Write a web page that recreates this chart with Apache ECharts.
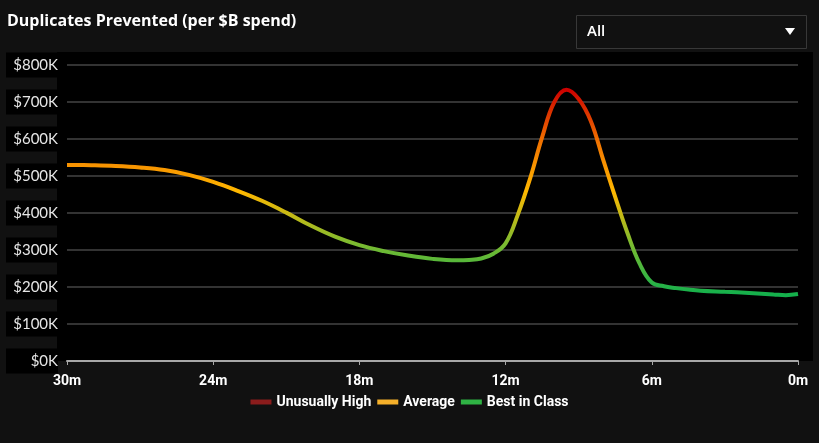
<!DOCTYPE html>
<html>
<head>
<meta charset="utf-8">
<style>
  html, body { margin: 0; padding: 0; background: #111; }
  #chart { width: 819px; height: 443px; }
</style>
<script src="https://cdn.jsdelivr.net/npm/echarts@6/dist/echarts.min.js"></script>
</head>
<body>
<div id="chart"></div>
<script>
// minutes ago (x) and duplicates prevented per $B (y)
var minutes = [30, 29, 28, 27, 26, 25, 24, 23, 22, 21, 20, 19, 18, 17, 16, 15, 14,
  13.5, 13, 12.5, 12, 11.5, 11, 10.5, 10, 9.5, 9, 8.5, 8, 7.5, 7, 6.5, 6, 5.5, 5, 4.5, 4,
  3, 2, 1, 0.5, 0];
var prevented = [530000, 529000, 527000, 523000, 516000, 503000, 484000, 460000, 433000, 401000,
  366000, 336000, 313000, 297000, 285000, 276000, 272000,
  273000, 277000, 290000, 318000, 395000, 492000, 605000, 700000, 733000, 708000, 648000,
  545000, 443000, 346000, 263000, 212000, 202000, 197000, 193000, 190000,
  187000, 184000, 180000, 178000, 181000];
var xTicks = [0, 6, 12, 18, 24, 30];
var yTicks = [0, 100000, 200000, 300000, 400000, 500000, 600000, 700000, 800000];
var legendNames = ['Unusually High', 'Average', 'Best in Class'];
var legendColors = ['#8b1c1c', '#f5b02a', '#2fb344'];

var narrowFont = 'Roboto, sans-serif';

var chart = echarts.init(document.getElementById('chart'));

var points = minutes.map(function (m, i) { return [m, prevented[i]]; });

var series = legendNames.map(function (n, i) {
  return {
    name: n,
    type: 'line',
    data: [],
    itemStyle: { color: legendColors[i] },
    lineStyle: { color: legendColors[i] }
  };
});
series.push({
  name: 'Duplicates',
  type: 'line',
  data: points,
  smooth: 0.4,
  showSymbol: false,
  symbol: 'none',
  lineStyle: { width: 4 },
  z: 5
});

var option = {
  backgroundColor: '#111',
  animation: false,
  title: {
    text: 'Duplicates Prevented (per $B spend)',
    left: 2,
    top: 8,
    textStyle: {
      color: '#fff',
      fontFamily: 'Open Sans',
      fontWeight: 'bold',
      fontSize: 16
    }
  },
  graphic: [
    {
      type: 'rect',
      z: -10,
      shape: { x: 57, y: 52, width: 756, height: 309 },
      style: { fill: '#000' }
    },
    {
      type: 'rect',
      shape: { x: 576.5, y: 15.5, width: 230, height: 33 },
      style: { fill: '#111', stroke: '#383838', lineWidth: 1 }
    },
    {
      type: 'text',
      x: 587,
      y: 32,
      style: {
        text: 'All',
        fill: '#fff',
        font: '600 15px "Open Sans"',
        verticalAlign: 'middle'
      }
    },
    {
      type: 'polygon',
      shape: { points: [[785, 28], [795, 28], [790, 35]] },
      style: { fill: '#fff' }
    }
  ],
  legend: {
    data: legendNames,
    bottom: 29,
    left: 'center',
    itemWidth: 21,
    itemHeight: 5,
    itemGap: 6,
    icon: 'rect',
    textStyle: {
      color: '#fff',
      fontFamily: narrowFont,
      fontWeight: 'bold',
      fontSize: 14
    }
  },
  grid: {
    left: 67,
    right: 21,
    top: 65,
    bottom: 82
  },
  visualMap: {
    show: false,
    type: 'continuous',
    seriesIndex: 3,
    dimension: 1,
    min: 180000,
    max: 735000,
    inRange: {
      color: ['#14b04c', '#7dbb30', '#ffb800', '#f07000', '#cc0000']
    }
  },
  xAxis: {
    type: 'value',
    inverse: true,
    min: 0,
    max: 30,
    interval: 6,
    axisLine: { show: true, lineStyle: { color: '#a8a8a8', width: 2 } },
    axisTick: { show: true, length: 4, lineStyle: { color: '#a8a8a8', width: 1 } },
    splitLine: { show: false },
    axisLabel: {
      color: '#fff',
      margin: 13,
      fontFamily: narrowFont,
      fontWeight: 'bold',
      fontSize: 14,
      formatter: function (v) { return xTicks.indexOf(v) >= 0 ? v + 'm' : ''; }
    }
  },
  yAxis: {
    type: 'value',
    min: 0,
    max: 800000,
    interval: 100000,
    axisLine: { show: false },
    axisTick: { show: false },
    splitLine: { lineStyle: { color: '#333', width: 2 } },
    axisLabel: {
      color: '#e6e6e6',
      fontFamily: 'Lato',
      fontSize: 15,
      margin: 9,
      backgroundColor: '#000',
      width: 46,
      align: 'right',
      padding: [5, 0, 5, 6],
      formatter: function (v) { return yTicks.indexOf(v) >= 0 ? '$' + (v / 1000) + 'K' : ''; }
    }
  },
  series: series
};

chart.setOption(option);
</script>
</body>
</html>
